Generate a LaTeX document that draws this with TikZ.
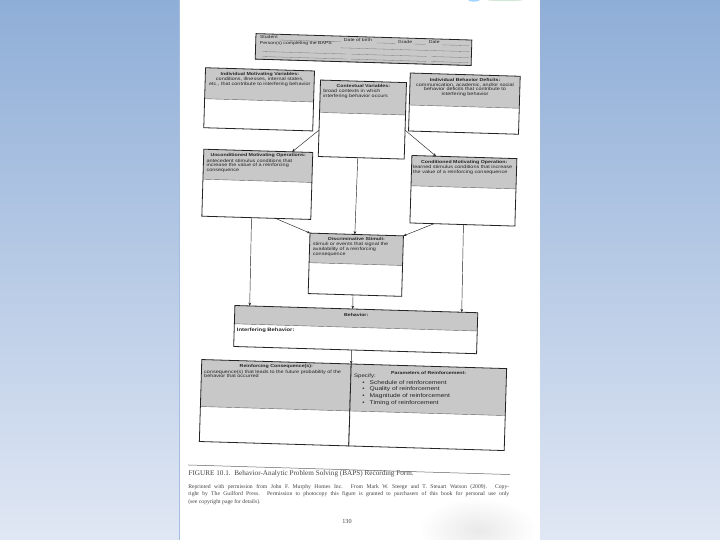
\documentclass[tikz,border=0pt]{standalone}
\usepackage{fontspec}
\setmainfont{Liberation Serif}
\setsansfont{Liberation Sans}
\newfontfamily\wsans[FakeStretch=1.22]{Liberation Sans}
\usetikzlibrary{arrows.meta,calc}
\definecolor{bgtop}{RGB}{143,174,215}
\definecolor{bgbot}{RGB}{224,231,244}
\definecolor{hdrgray}{RGB}{200,200,200}
\definecolor{ink}{RGB}{35,35,35}
\tikzset{
  boxshape/.style={fill=white, inner sep=0pt, outer sep=0pt},
  boxline/.style={draw=ink, line width=0.8pt},
  sepline/.style={draw=ink!70, line width=0.4pt},
  conn/.style={draw=ink, line width=0.45pt, -{Stealth[length=3.2pt,width=2.6pt]}},
  ttl/.style={font=\wsans\bfseries\fontsize{4.3}{5}\selectfont, inner sep=0pt, text=ink},
  bodyc/.style={font=\wsans\fontsize{4.5}{4.9}\selectfont, inner sep=0pt, text=ink, align=center},
  bodyl/.style={font=\wsans\fontsize{4.5}{4.9}\selectfont, inner sep=0pt, text=ink, align=left, anchor=north},
  formtxt/.style={font=\wsans\fontsize{4.2}{5}\selectfont, inner sep=0pt, text=ink, anchor=base west},
  formline/.style={draw=ink!60, line width=0.3pt},
  captxt/.style={font=\fontsize{7.2}{9}\selectfont, inner sep=0pt, text=ink!85},
  reprint/.style={font=\fontsize{5.7}{7.2}\selectfont, inner sep=0pt, text=ink!85, text width=321pt, align=justify}
}
\newcommand\FormBox[6]{%
  \pgfmathsetmacro\fbw{#4-#2}\pgfmathsetmacro\fbh{#5-#3}%
  \pgfmathsetmacro\fbx{(#2+#4)/2}\pgfmathsetmacro\fby{(#3+#5)/2}%
  \node[boxshape, minimum width=\fbw pt, minimum height=\fbh pt, rotate=-1.7] (#1) at (\fbx,\fby) {};
  \fill[hdrgray] (#2,#3) rectangle (#4,#6);
  \draw[sepline] (#2,#6) -- (#4,#6);
  \draw[boxline] (#2,#3) rectangle (#4,#5);
}
\begin{document}
\begin{tikzpicture}[x=1pt,y=-1pt]
\useasboundingbox (0,0) rectangle (720,540);
\shade[top color=bgtop, bottom color=bgbot] (0,0) rectangle (720,540);
\fill[white] (179,0) rectangle (539.5,540);
\draw[bgtop!80, line width=0.6pt] (179,0) -- (179,540);
% smudges on the page
\shade[inner color=black!14, outer color=white, opacity=0.6] (478,530) ellipse [x radius=58, y radius=32];
\fill[blue!45!cyan!60, opacity=0.6] (474,0) ellipse [x radius=6, y radius=1.6];
\fill[green!30!gray!50, opacity=0.5] (505,0) ellipse [x radius=18, y radius=1.2];

\begin{scope}[rotate around={-1.7:(360,270)}]
  % header form
  \FormBox{hdr}{249}{36.8}{465}{62.3}{62.3}
  \node[formtxt] (st) at (253,42) {Student};
  \draw[formline] (272,42.5) -- (334,42.5);
  \node[formtxt] (dob) at (337,42) {Date of birth};
  \draw[formline] (370,42.5) -- (389,42.5);
  \node[formtxt] (gr) at (391,42) {Grade};
  \draw[formline] (407,42.5) -- (419,42.5);
  \node[formtxt] (dt) at (422,42) {Date};
  \draw[formline] (436,42.5) -- (462,42.5);
  \node[formtxt] (pc) at (253,48) {Person(s) completing the BAPS};
  \draw[formline] (334,48.5) -- (462,48.5);
  \draw[formline] (256,54.5) -- (340,54.5) (345,54.5) -- (420,54.5) (425,54.5) -- (462,54.5);
  \draw[formline] (256,59.5) -- (340,59.5) (345,59.5) -- (420,59.5) (425,59.5) -- (462,59.5);

  % boxes
  \FormBox{b1}{199.6}{72.4}{308.6}{132.4}{103.4}
  \FormBox{b2}{314.9}{81.3}{400.9}{157.8}{113.7}
  \FormBox{b3}{404.4}{71.6}{514.4}{129.6}{103.6}
  \FormBox{b4}{200.3}{153.9}{309.3}{220.9}{183.9}
  \FormBox{b5}{408.5}{154}{513.5}{221.5}{184.3}
  \FormBox{b6}{308.9}{234.6}{402.4}{295.1}{264.2}
  \FormBox{b7}{236}{309.2}{479}{350.2}{327.5}
  \FormBox{b8l}{204.5}{364.2}{354}{446.2}{411.2}
  \FormBox{b8r}{354}{364.2}{509.5}{446.2}{411.2}

  % texts
  \node[ttl] (t1) at (254.1,77.4) {Individual Motivating Variables:};
  \node[bodyc, anchor=north] (d1) at (254.1,80.4) {conditions, illnesses, internal states,\\etc., that contribute to interfering behavior};
  \node[ttl] (t2) at (357.9,86.3) {Contextual Variables:};
  \node[bodyl, text width=80pt] (d2) at (357.9,89.3) {broad contexts in which\\interfering behavior occurs};
  \node[ttl] (t3) at (459.4,76.6) {Individual Behavior Deficits:};
  \node[bodyc, anchor=north] (d3) at (459.4,79.6) {communication, academic, and/or social\\behavior deficits that contribute to\\interfering behavior};
  \node[ttl] (t4) at (254.8,158.7) {Unconditioned Motivating Operations:};
  \node[bodyl, text width=103pt] (d4) at (254.8,161.7) {antecedent stimulus conditions that\\increase the value of a reinforcing\\consequence};
  \node[ttl] (t5) at (461,158.9) {Conditioned Motivating Operation:};
  \node[bodyl, text width=102pt] (d5) at (461,161.9) {learned stimulus conditions that increase\\the value of a reinforcing consequence};
  \node[ttl] (t6) at (355.6,239.4) {Discriminative Stimuli:};
  \node[bodyl, text width=87pt] (d6) at (355.6,242.4) {stimuli or events that signal the\\availability of a reinforcing\\consequence};
  \node[ttl] (t7) at (357.5,315.4) {Behavior:};
  \node[ttl, font=\wsans\bfseries\fontsize{4.8}{5.4}\selectfont, anchor=west] (t7b) at (238.5,333.5) {Interfering Behavior:};
  \node[ttl] (t8) at (279.2,369) {Reinforcing Consequence(s):};
  \node[bodyl, text width=144pt] (d8) at (279.2,372) {consequence(s) that leads to the future probability of the\\behavior that occurred};
  \node[ttl] (t9) at (431.7,371) {Parameters of Reinforcement:};
  \node[bodyl, font=\wsans\fontsize{5}{5.5}\selectfont, anchor=north west] (sp) at (357,373.6) {Specify:};
  \node[bodyl, font=\wsans\fontsize{5.4}{6.6}\selectfont, anchor=north west] (d9) at (365.5,380) {%
    \textbullet\hspace{5pt}Schedule of reinforcement\\
    \textbullet\hspace{5pt}Quality of reinforcement\\
    \textbullet\hspace{5pt}Magnitude of reinforcement\\
    \textbullet\hspace{5pt}Timing of reinforcement};

  % connectors
  \draw[conn] ($(b2.south west)!0.345!(b2.north west)$) -- ($(b4.north west)!0.81!(b4.north east)$);
  \draw[conn] ($(b2.south east)!0.378!(b2.north east)$) -- ($(b5.north west)!0.23!(b5.north east)$);
  \draw[conn] ($(b2.south west)!0.46!(b2.south east)$) -- ($(b6.north west)!0.48!(b6.north east)$);
  \draw[conn] ($(b4.south west)!0.676!(b4.south east)$) -- (b6.north west);
  \draw[conn] ($(b5.south west)!0.23!(b5.south east)$) -- (b6.north east);
  \draw[conn] ($(b4.south west)!0.456!(b4.south east)$) -- ($(b7.north west)!0.061!(b7.north east)$);
  \draw[conn] ($(b6.south west)!0.48!(b6.south east)$) -- ($(b7.north west)!0.485!(b7.north east)$);
  \draw[conn] ($(b5.south west)!0.51!(b5.south east)$) -- ($(b7.north west)!0.934!(b7.north east)$);
  \draw[conn] ($(b7.south west)!0.485!(b7.south east)$) -- (b8l.north east);

  % caption
  \draw[ink!70, line width=0.5pt] (194,470) -- (516,470);
  \node[captxt, anchor=base west] (cap) at (194.5,480.5) {FIGURE 10.1.\ \ Behavior-Analytic Problem Solving (BAPS) Recording Form.};
  \node[reprint, anchor=north west] (rep) at (194.5,489.5) {Reprinted with permission from John F. Murphy Homes Inc. From Mark W. Steege and T. Steuart Watson (2009). Copy-\linebreak right by The Guilford Press. Permission to photocopy this figure is granted to purchasers of this book for personal use only\linebreak (see copyright page for details).};
  \node[captxt, font=\fontsize{6.2}{7}\selectfont] (pg) at (354.5,522) {130};
\end{scope}
\end{tikzpicture}
\end{document}
